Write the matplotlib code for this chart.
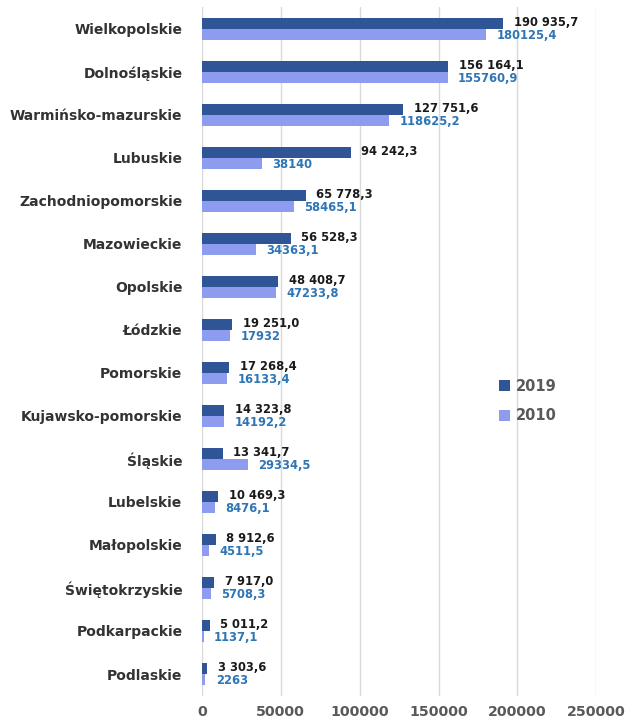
import matplotlib.pyplot as plt
import numpy as np

regions = ["Wielkopolskie", "Dolnośląskie", "Warmińsko-mazurskie", "Lubuskie",
           "Zachodniopomorskie", "Mazowieckie", "Opolskie", "Łódzkie", "Pomorskie",
           "Kujawsko-pomorskie", "Śląskie", "Lubelskie", "Małopolskie",
           "Świętokrzyskie", "Podkarpackie", "Podlaskie"]
v2019 = [190935.7, 156164.1, 127751.6, 94242.3, 65778.3, 56528.3, 48408.7, 19251.0,
         17268.4, 14323.8, 13341.7, 10469.3, 8912.6, 7917.0, 5011.2, 3303.6]
v2010 = [180125.4, 155760.9, 118625.2, 38140, 58465.1, 34363.1, 47233.8, 17932,
         16133.4, 14192.2, 29334.5, 8476.1, 4511.5, 5708.3, 1137.1, 2263]
xticks = [0, 50000, 100000, 150000, 200000, 250000]

c2019 = "#2F5597"
c2010 = "#8E9CF0"
lab2010 = "#2E75B6"


def fmt2019(v):
    s = "{:,.1f}".format(v)
    return s.replace(",", " ").replace(".", ",")


def fmt2010(v):
    if float(v).is_integer():
        return str(int(v))
    return "{:.1f}".format(v).replace(".", ",")


fig = plt.figure(figsize=(6.27, 7.22), dpi=100)
ax = fig.add_axes([0.322, 0.0367, 0.629, 0.953])

n = len(regions)
y = np.arange(n)
h = 0.26
ax.barh(y - h / 2, v2019, height=h, color=c2019, label="2019", zorder=3)
ax.barh(y + h / 2, v2010, height=h, color=c2010, label="2010", zorder=3)

for i in range(n):
    ax.annotate(fmt2019(v2019[i]), (v2019[i], y[i] - h / 2), xytext=(7.5, 0.8),
                textcoords="offset points", va="center", ha="left",
                fontsize=8.3, fontweight="bold", color="#1a1a1a", zorder=4)
    ax.annotate(fmt2010(v2010[i]), (v2010[i], y[i] + h / 2), xytext=(7.5, -0.8),
                textcoords="offset points", va="center", ha="left",
                fontsize=8.3, fontweight="bold", color=lab2010, zorder=4)

ax.set_ylim(n - 0.5, -0.5)
ax.set_xlim(0, 250000)
ax.set_yticks(y)
ax.set_yticklabels(regions, fontsize=10, fontweight="bold", color="#333333")
ax.set_xticks(xticks)
ax.set_xticklabels([str(t) for t in xticks], fontsize=10.2, fontweight="bold", color="#595959")
ax.tick_params(axis="both", length=0)
ax.tick_params(axis="y", pad=14)
ax.tick_params(axis="x", pad=7)
ax.grid(axis="x", color="#d9d9d9", linewidth=1, zorder=0)
for s in ax.spines.values():
    s.set_visible(False)

ax.legend(loc="center left", bbox_to_anchor=(0.754, 0.428), frameon=False,
          borderpad=0, borderaxespad=0, handlelength=0.75, handleheight=0.75,
          handletextpad=0.4, labelspacing=1.0,
          prop={"weight": "bold", "size": 10.5}, labelcolor="#595959")

fig.savefig("out.png", dpi=100)
